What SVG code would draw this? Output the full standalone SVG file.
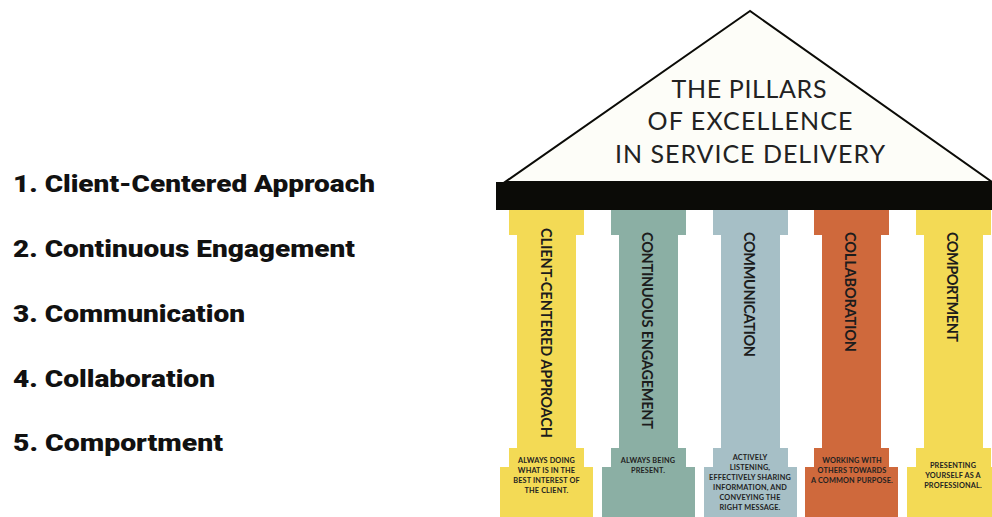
<svg xmlns="http://www.w3.org/2000/svg" width="992" height="517" viewBox="0 0 992 517">
  <defs>
    <style>
      .list { font-family: Roboto, Lato, "Noto Sans", sans-serif; font-weight: 900; font-size: 23.5px; fill: #111; font-variant-ligatures: none; }
      .title { font-family: Lato, "Noto Sans", sans-serif; font-weight: 400; font-size: 25px; fill: #222; text-anchor: middle; }
      .ptitle { font-family: Lato, "Noto Sans", sans-serif; font-weight: 700; font-size: 14.5px; fill: #1c1c1c; }
      .pnote { font-family: Lato, "Noto Sans", sans-serif; font-weight: 700; font-size: 7.3px; fill: #222; text-anchor: middle; letter-spacing: 0.15px; }
      .yellow { fill: #F3DA55; }
      .teal { fill: #8BAFA4; }
      .blue { fill: #A6BFC6; }
      .orange { fill: #CF693C; }
    </style>
    <!-- one column outline, capital left edge at x=0 -->
    <path id="column" d="M0 210 H75 V235 H67 V448 H75 V467 H84 V517 H-9 V467 H0 V448 H8 V235 H0 Z"/>
  </defs>

  <rect width="992" height="517" fill="#ffffff"/>

  <!-- numbered list -->
  <g id="list">
    <text class="list" x="13" y="192" textLength="362" lengthAdjust="spacingAndGlyphs">1. Client-Centered Approach</text>
    <text class="list" x="13" y="257" textLength="342" lengthAdjust="spacingAndGlyphs">2. Continuous Engagement</text>
    <text class="list" x="13" y="322" textLength="232" lengthAdjust="spacingAndGlyphs">3. Communication</text>
    <text class="list" x="13" y="387" textLength="202" lengthAdjust="spacingAndGlyphs">4. Collaboration</text>
    <text class="list" x="13" y="451" textLength="210" lengthAdjust="spacingAndGlyphs">5. Comportment</text>
  </g>

  <!-- pediment and beam -->
  <g id="roof">
    <polygon points="750,11 505,182 992,182" fill="#FDFDF8" stroke="#0B0B07" stroke-width="2" stroke-linejoin="miter"/>
    <rect x="496" y="182" width="496" height="28" fill="#0B0B07"/>
    <text class="title" x="749" y="98" textLength="155" lengthAdjust="spacing">THE PILLARS</text>
    <text class="title" x="750" y="130" textLength="205" lengthAdjust="spacing">OF EXCELLENCE</text>
    <text class="title" x="750" y="163" textLength="270" lengthAdjust="spacing">IN SERVICE DELIVERY</text>
  </g>

  <g id="pillar-1">
    <use href="#column" x="509" class="yellow"/>
    <text class="ptitle" transform="translate(541,228) rotate(90)" textLength="210" lengthAdjust="spacing">CLIENT-CENTERED APPROACH</text>
    <text class="pnote" x="546.5" y="463">ALWAYS DOING</text>
    <text class="pnote" x="546.5" y="473">WHAT IS IN THE</text>
    <text class="pnote" x="546.5" y="483">BEST INTEREST OF</text>
    <text class="pnote" x="546.5" y="493">THE CLIENT.</text>
  </g>

  <g id="pillar-2">
    <use href="#column" x="611" class="teal"/>
    <text class="ptitle" transform="translate(642,232) rotate(90)" textLength="197" lengthAdjust="spacing">CONTINUOUS ENGAGEMENT</text>
    <text class="pnote" x="648" y="462.5">ALWAYS BEING</text>
    <text class="pnote" x="648" y="472.5">PRESENT.</text>
  </g>

  <g id="pillar-3">
    <use href="#column" x="713" class="blue"/>
    <text class="ptitle" transform="translate(743.5,232) rotate(90)" textLength="125" lengthAdjust="spacing">COMMUNICATION</text>
    <text class="pnote" x="750" y="459.5">ACTIVELY</text>
    <text class="pnote" x="750" y="469.5">LISTENING,</text>
    <text class="pnote" x="750" y="479.5">EFFECTIVELY SHARING</text>
    <text class="pnote" x="750" y="489.5">INFORMATION, AND</text>
    <text class="pnote" x="750" y="499.5">CONVEYING THE</text>
    <text class="pnote" x="750" y="509.5">RIGHT MESSAGE.</text>
  </g>

  <g id="pillar-4">
    <use href="#column" x="814" class="orange"/>
    <text class="ptitle" transform="translate(844.5,232) rotate(90)" textLength="120" lengthAdjust="spacing">COLLABORATION</text>
    <text class="pnote" x="852" y="463">WORKING WITH</text>
    <text class="pnote" x="852" y="473">OTHERS TOWARDS</text>
    <text class="pnote" x="852" y="483">A COMMON PURPOSE.</text>
  </g>

  <g id="pillar-5">
    <use href="#column" x="916" class="yellow"/>
    <text class="ptitle" transform="translate(946.7,232) rotate(90)" textLength="110" lengthAdjust="spacing">COMPORTMENT</text>
    <text class="pnote" x="953" y="468">PRESENTING</text>
    <text class="pnote" x="953" y="477.5">YOURSELF AS A</text>
    <text class="pnote" x="953" y="487.5">PROFESSIONAL.</text>
  </g>
</svg>
